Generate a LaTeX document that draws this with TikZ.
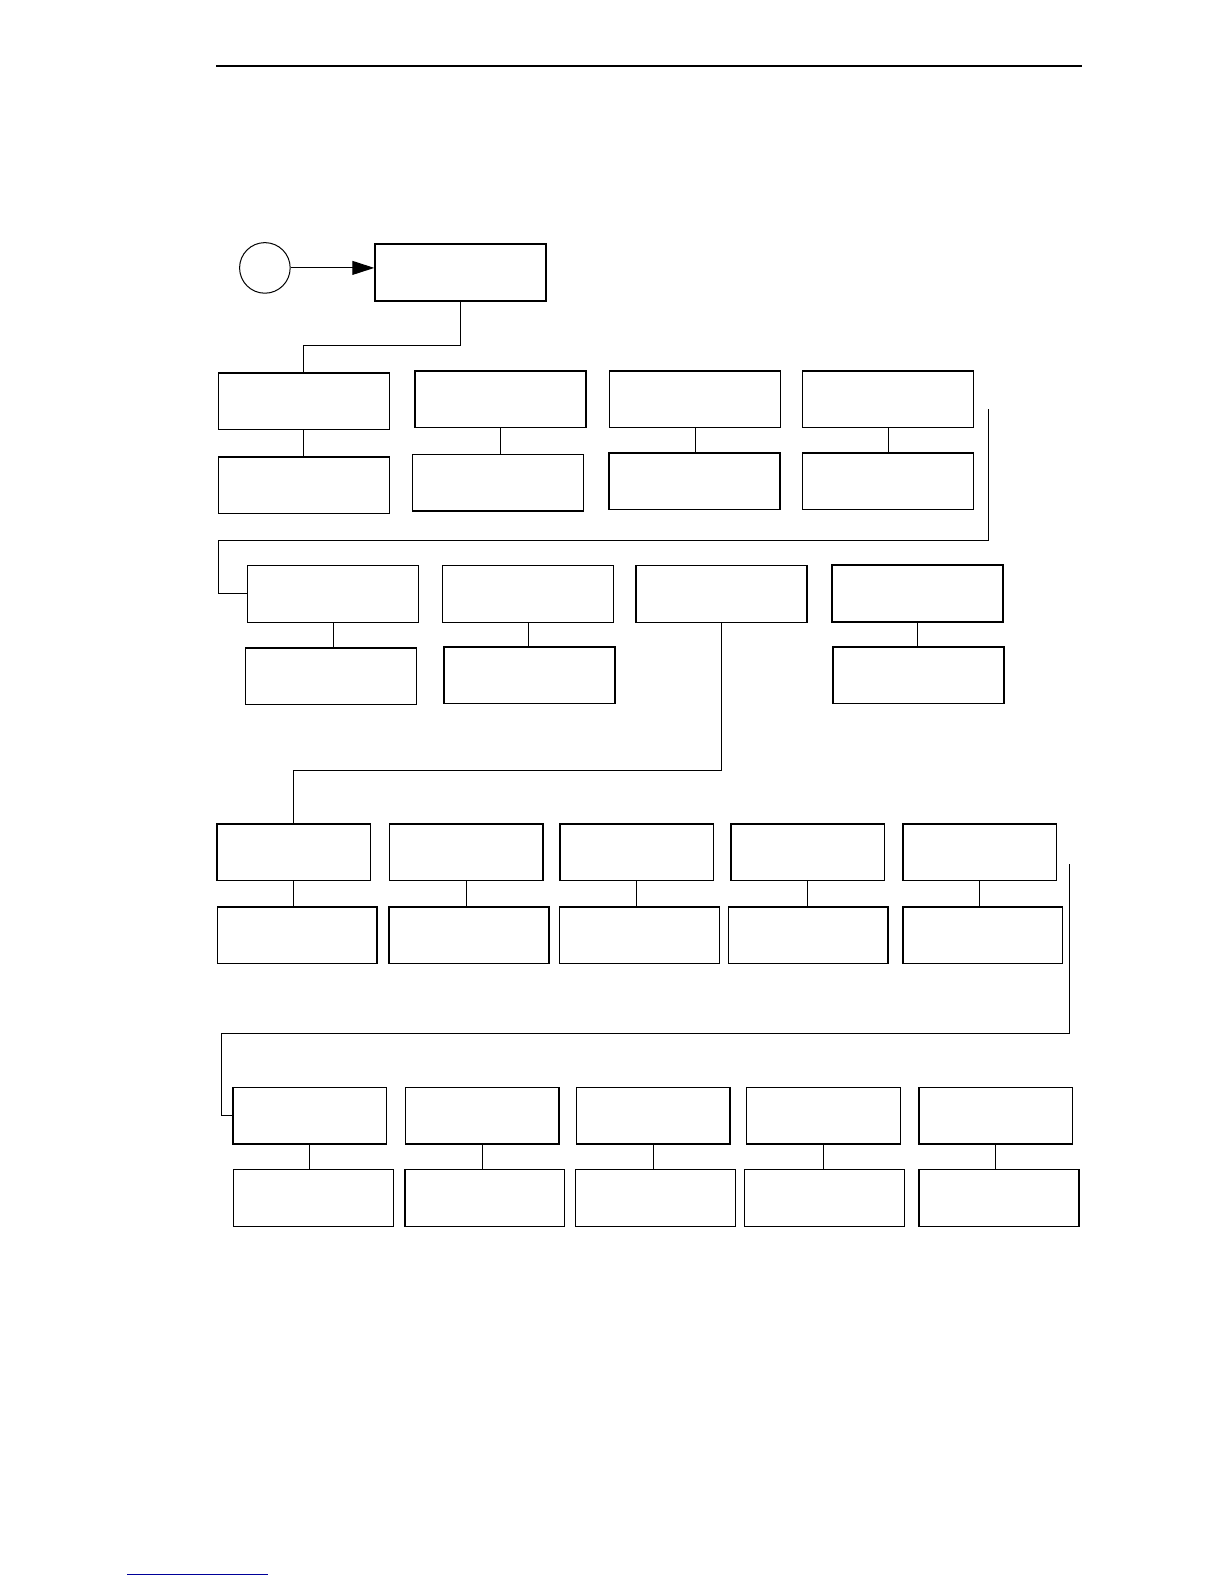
\documentclass[tikz,border=0pt]{standalone}
\usepackage{tikz}
\usetikzlibrary{arrows.meta}
\tikzset{
    boxwide/.style={draw,rectangle,fill=white,minimum width=85.5pt,minimum height=28.3pt,inner sep=0pt,line width=0.75pt},
    boxtop/.style={draw,rectangle,fill=white,minimum width=76.8pt,minimum height=28.3pt,inner sep=0pt,line width=0.75pt},
    boxlow/.style={draw,rectangle,fill=white,minimum width=79.9pt,minimum height=28.3pt,inner sep=0pt,line width=0.75pt},
    cirstart/.style={draw,circle,fill=white,minimum size=25.3pt,inner sep=0pt,line width=0.5pt},
    wire/.style={line width=0.5pt},
}
\begin{document}
\begin{tikzpicture}[x=0.5055pt,y=-0.5055pt]
            \useasboundingbox (0pt,0pt) rectangle (612pt,-792pt);
            \draw[line width=1pt] (214,65) -- (1070,65); % page rule
            \draw[line width=0.6pt, blue!60!black] (126,1557) -- (265,1557);

            \node[cirstart] (circ) at (262,265) {}; % entry
            \node[boxwide] (start) at (455.5,269.5) {};
            \draw[wire, -{Triangle[length=11pt,width=7pt]}] (circ.east) -- (circ.east -| start.west);

            \node[boxwide] (A1) at (300.5,397) {}; % first row
            \node[boxwide] (A2) at (495,395) {};
            \node[boxwide] (A3) at (687.5,395) {};
            \node[boxwide] (A4) at (878.5,395) {};
            \node[boxwide] (B1) at (300.5,480) {};
            \node[boxwide] (B2) at (492.5,477.5) {};
            \node[boxwide] (B3) at (687,476) {};
            \node[boxwide] (B4) at (878.5,476) {};
            \draw[wire] (start.south) -- ++(0,44) -| (A1.north);
            \foreach \i in {1,...,4}
                \draw[wire] (A\i.south) -- (A\i.south |- B\i.north);

            \node[boxwide] (C1) at (329.5,587.5) {}; % second row
            \node[boxwide] (C2) at (522.5,587.5) {};
            \node[boxwide] (C3) at (713.5,587.5) {};
            \node[boxwide] (C4) at (907.5,587) {};
            \node[boxwide] (D1) at (327.5,669) {};
            \node[boxwide] (D2) at (523.5,668) {};
            \node[boxwide] (D4) at (908.5,668) {};
            \coordinate (j1) at (978,405);
            \coordinate (k1) at (216,535);
            \draw[wire] (j1) |- (k1) |- (C1.west);
            \foreach \i in {1,2,4}
                \draw[wire] (C\i.south) -- (C\i.south |- D\i.north);

            \foreach \i/\xt/\xb in {1/290.5/294, 2/461/464, 3/630/632.5, 4/799/799.5, 5/969/972} { % third row
                \node[boxtop] (E\i) at (\xt,843) {};
                \node[boxlow] (F\i) at (\xb,925) {};
                \draw[wire] (E\i.south) -- (E\i.south |- F\i.north);
            }
            \draw[wire] (C3.south) -- ++(0,146) -| (E1.north);

            \foreach \i/\xt/\xb in {1/306.5/310, 2/477/479.5, 3/646/648.5, 4/814.5/815.5, 5/985/988} { % fourth row
                \node[boxtop] (G\i) at (\xt,1103.5) {};
                \node[boxlow] (H\i) at (\xb,1185) {};
                \draw[wire] (G\i.south) -- (G\i.south |- H\i.north);
            }
            \coordinate (j2) at (1058,855);
            \coordinate (k2) at (219,1022);
            \draw[wire] (j2) |- (k2) |- (G1.west);
        \end{tikzpicture}
\end{document}
